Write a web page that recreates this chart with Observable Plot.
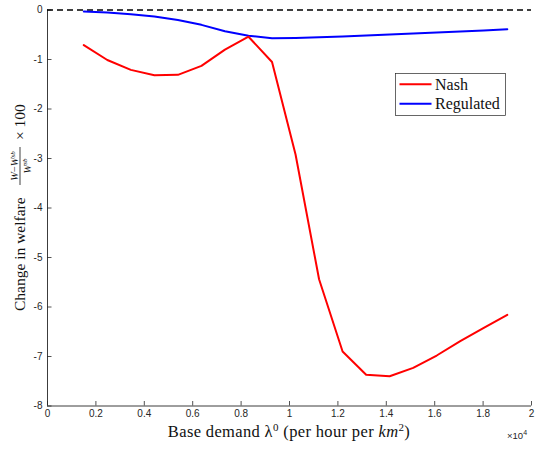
<!DOCTYPE html>
<html><head><meta charset="utf-8">
<script src="https://cdn.jsdelivr.net/npm/d3@7"></script>
<script src="https://cdn.jsdelivr.net/npm/@observablehq/plot@0.6"></script>
<style>body{margin:0;background:#fff;} #chart{position:relative;width:537px;height:450px;}</style>
</head><body><div id="chart"></div>
<script>
// Data
const demand = [1500, 2472, 3444, 4417, 5389, 6361, 7333, 8306, 9278, 10250, 11222, 12194, 13167, 14139, 15111, 16083, 17056, 18028, 19000];
const nash = [-0.71, -1.01, -1.21, -1.32, -1.31, -1.13, -0.80, -0.54, -1.05, -2.92, -5.44, -6.90, -7.37, -7.40, -7.23, -6.98, -6.69, -6.42, -6.16];
const regulated = [-0.03, -0.05, -0.085, -0.13, -0.20, -0.30, -0.43, -0.52, -0.57, -0.565, -0.55, -0.535, -0.515, -0.495, -0.475, -0.455, -0.435, -0.415, -0.39];
const xTicks = [0, 2000, 4000, 6000, 8000, 10000, 12000, 14000, 16000, 18000, 20000];
const xTickLabels = ["0", "0.2", "0.4", "0.6", "0.8", "1", "1.2", "1.4", "1.6", "1.8", "2"];
const yTicks = [-8, -7, -6, -5, -4, -3, -2, -1, 0];
const yTickLabels = ["-8", "-7", "-6", "-5", "-4", "-3", "-2", "-1", "0"];
const seriesNames = ["Nash", "Regulated"];
const seriesColors = ["#ff0000", "#0000ff"];

const W = 537, H = 450, mL = 47, mR = 6, mT = 9.5, mB = 44.5;
const plotW = W - mL - mR, plotH = H - mT - mB;
const axisColor = "#262626";

const nashRows = demand.map((x, i) => ({x, y: nash[i]}));
const regRows = demand.map((x, i) => ({x, y: regulated[i]}));

const svg = Plot.plot({
  width: W, height: H,
  marginLeft: mL, marginRight: mR, marginTop: mT, marginBottom: mB,
  x: {domain: [0, 20000], label: null},
  y: {domain: [-8, 0], label: null},
  style: {fontFamily: "'Liberation Sans', Arial, sans-serif", fontSize: "10px", color: axisColor, background: "white"},
  marks: [
    Plot.axisX({ticks: xTicks, tickSize: 0, tickPadding: 4, tickFormat: d => xTickLabels[xTicks.indexOf(d)], label: null, fill: axisColor}),
    Plot.axisY({ticks: yTicks, tickSize: 0, tickPadding: 5, tickFormat: d => yTickLabels[yTicks.indexOf(d)], label: null, fill: axisColor}),
    Plot.tickX(xTicks, {x: d => d, insetTop: plotH - 4.5, stroke: axisColor, strokeWidth: 0.8}),
    Plot.tickY(yTicks, {y: d => d, insetRight: plotW - 4.5, stroke: axisColor, strokeWidth: 0.8}),
    Plot.ruleX([0], {stroke: axisColor, strokeWidth: 0.9}),
    Plot.ruleY([-8], {stroke: axisColor, strokeWidth: 0.9}),
    Plot.ruleY([0], {stroke: "black", strokeWidth: 1.3, strokeDasharray: "6,4"}),
    Plot.line(regRows, {x: "x", y: "y", stroke: seriesColors[1], strokeWidth: 2}),
    Plot.line(nashRows, {x: "x", y: "y", stroke: seriesColors[0], strokeWidth: 2})
  ]
});
document.getElementById("chart").appendChild(svg);

const s = d3.select(svg);
const serif = "'Liberation Serif', 'Times New Roman', serif";

// X label
const xl = s.append("text").attr("x", 289).attr("y", 437).attr("text-anchor", "middle")
  .attr("font-family", serif).attr("font-size", 16.5).attr("letter-spacing", 0.35).attr("fill", "#111");
xl.append("tspan").text("Base demand λ");
xl.append("tspan").attr("font-size", 11).attr("dy", -6.5).text("0");
xl.append("tspan").attr("dy", 6.5).text(" (per hour per ");
xl.append("tspan").attr("font-style", "italic").text("km");
xl.append("tspan").attr("font-size", 11).attr("dy", -6.5).text("2");
xl.append("tspan").attr("dy", 6.5).text(")");

// x10^4 multiplier
const mx = s.append("text").attr("x", 507).attr("y", 439).attr("text-anchor", "start")
  .attr("font-family", "'Liberation Sans', Arial, sans-serif").attr("font-size", 9.5).attr("fill", axisColor);
mx.append("tspan").text("×10");
mx.append("tspan").attr("font-size", 7).attr("dy", -4).text("4");

// Y label (rotated)
const g = s.append("g").attr("transform", "translate(25,311) rotate(-90)")
  .attr("font-family", serif).attr("fill", "#111").attr("text-anchor", "start");
g.append("text").attr("x", 0).attr("y", 0).attr("font-size", 15.5).attr("text-anchor", "start").text("Change in welfare");
const num = g.append("text").attr("x", 145).attr("y", -6.8).attr("text-anchor", "middle").attr("font-size", 10.5);
num.append("tspan").attr("font-style", "italic").text("W");
num.append("tspan").text("−");
num.append("tspan").attr("font-style", "italic").text("W");
num.append("tspan").attr("font-size", 7).attr("dy", -3.5).attr("font-style", "italic").text("sb");
g.append("line").attr("x1", 126).attr("x2", 164).attr("y1", -5).attr("y2", -5).attr("stroke", "#111").attr("stroke-width", 0.8);
const den = g.append("text").attr("x", 145).attr("y", 5.5).attr("text-anchor", "middle").attr("font-size", 10.5);
den.append("tspan").attr("font-style", "italic").text("W");
den.append("tspan").attr("font-size", 7).attr("dy", -3.5).attr("font-style", "italic").text("sb");
g.append("text").attr("x", 171).attr("y", 0).attr("font-size", 15.5).attr("text-anchor", "start").text("× 100");

// Legend
const lg = s.append("g");
lg.append("rect").attr("x", 395.5).attr("y", 73.5).attr("width", 110).attr("height", 42)
  .attr("fill", "white").attr("stroke", axisColor).attr("stroke-width", 0.7);
seriesNames.forEach((name, i) => {
  const yy = 84.3 + i * 19.4;
  lg.append("line").attr("x1", 399.5).attr("x2", 431.5).attr("y1", yy).attr("y2", yy)
    .attr("stroke", seriesColors[i]).attr("stroke-width", 2);
  lg.append("text").attr("x", 435).attr("y", yy + 5.2).attr("text-anchor", "start")
    .attr("font-family", serif).attr("font-size", 16).attr("fill", "#111").text(name);
});
</script>
</body></html>
